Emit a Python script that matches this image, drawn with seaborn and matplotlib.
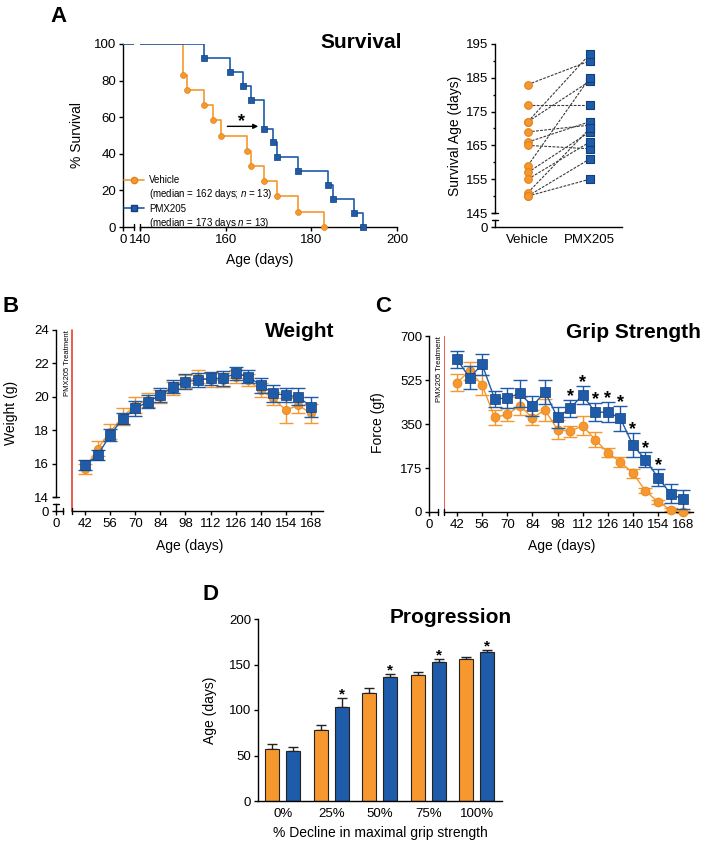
import numpy as np
import pandas as pd
import matplotlib
matplotlib.use('Agg')
import matplotlib.pyplot as plt
import matplotlib.transforms as mtransforms
from matplotlib.lines import Line2D
import seaborn as sns

W, H, DPI = 709, 843, 100

ORANGE = '#F6982E'
ORANGE_DARK = '#E0841E'
BLUE = '#1E5BA9'
BLUE_DARK = '#133E7C'
RED = '#E3412E'
GROUPS = ['Vehicle', 'PMX205']

# A: Kaplan-Meier steps (day of death, % still alive after it)
km_vehicle_day = [0, 150, 151, 155, 157, 159, 165, 166, 169, 172, 177, 183]
km_vehicle_pct = [100, 83.3, 75.0, 66.7, 58.3, 50.0, 41.7, 33.3, 25.0, 16.7, 8.3, 0]
km_pmx_day = [0, 155, 161, 164, 166, 169, 171, 172, 177, 184, 185, 190, 192]
km_pmx_pct = [100, 92.3, 84.6, 76.9, 69.2, 53.8, 46.2, 38.5, 30.8, 23.1, 15.4, 7.7, 0]

# A (right): paired survival ages
pair_vehicle = [183, 177, 172, 172, 169, 166, 165, 159, 157, 155, 151, 150, 150]
pair_pmx = [190, 177, 192, 184, 171, 172, 164, 185, 169, 166, 170, 161, 155]

# B / C: weekly measurements
age_days = [42, 49, 56, 63, 70, 77, 84, 91, 98, 105, 112, 119, 126, 133, 140, 147, 154, 161, 168]
weight_vehicle = [15.7, 16.9, 17.9, 18.8, 19.5, 19.8, 20.0, 20.5, 20.9, 21.2, 21.0, 21.0, 21.2, 21.0, 20.4, 19.9, 19.2, 19.5, 19.0]
weight_vehicle_sem = [0.3, 0.45, 0.45, 0.5, 0.5, 0.4, 0.4, 0.4, 0.4, 0.4, 0.4, 0.4, 0.4, 0.35, 0.4, 0.4, 0.75, 0.5, 0.55]
weight_pmx = [15.9, 16.5, 17.7, 18.7, 19.3, 19.7, 20.1, 20.6, 20.9, 21.0, 21.1, 21.1, 21.4, 21.2, 20.7, 20.2, 20.1, 20.0, 19.4]
weight_pmx_sem = [0.3, 0.3, 0.35, 0.3, 0.45, 0.4, 0.4, 0.4, 0.45, 0.4, 0.4, 0.45, 0.4, 0.4, 0.45, 0.5, 0.4, 0.5, 0.6]

grip_vehicle = [514, 562, 505, 376, 388, 422, 375, 405, 328, 321, 343, 288, 236, 199, 155, 84, 40, 9, 0]
grip_vehicle_sem = [34, 36, 40, 29, 26, 36, 30, 44, 37, 22, 38, 29, 19, 20, 18, 10, 8, 6, 4]
grip_pmx = [607, 534, 587, 449, 454, 472, 421, 478, 376, 412, 465, 397, 397, 373, 266, 208, 137, 73, 50]
grip_pmx_sem = [33, 46, 41, 32, 40, 53, 41, 47, 42, 33, 35, 37, 39, 49, 49, 30, 33, 37, 39]
grip_star_days = [105, 112, 119, 126, 133, 140, 147, 154]
treatment_day = 35

# D: progression
decline_cats = ['0%', '25%', '50%', '75%', '100%']
prog_vehicle = [57, 78, 119, 139, 156]
prog_vehicle_sem = [6, 6, 5, 3, 2]
prog_pmx = [55, 103, 136, 153, 164]
prog_pmx_sem = [4, 10, 4, 3, 2]
prog_star_cats = ['25%', '50%', '75%', '100%']

sns.set_theme(style='ticks')
plt.rcParams['font.family'] = ['Liberation Sans', 'DejaVu Sans']
plt.rcParams.update({
    'mathtext.fontset': 'custom', 'mathtext.rm': 'Liberation Sans',
    'mathtext.it': 'Liberation Sans:italic',
    'axes.linewidth': 1.0, 'axes.edgecolor': 'black',
    'xtick.color': 'black', 'ytick.color': 'black',
    'text.color': 'black', 'axes.labelcolor': 'black',
})

fig = plt.figure(figsize=(W / DPI, H / DPI), dpi=DPI)
# pixel coordinates, origin top-left
PX = mtransforms.Affine2D().scale(1 / W, -1 / H).translate(0, 1) + fig.transFigure


def pt(px):
    return px * 72 / DPI


def add_axes_px(x0, y0, x1, y1, **kw):
    return fig.add_axes([x0 / W, 1 - y1 / H, (x1 - x0) / W, (y1 - y0) / H], **kw)


def style(ax, left_out=0, bottom_out=0, left=True, bottom=True):
    ax.set_facecolor('none')
    ax.spines[['top', 'right']].set_visible(False)
    ax.spines['left'].set_visible(left)
    ax.spines['bottom'].set_visible(bottom)
    ax.spines['left'].set_position(('outward', pt(left_out)))
    ax.spines['bottom'].set_position(('outward', pt(bottom_out)))
    ax.tick_params(direction='out', length=pt(4), width=1, pad=2, labelsize=9.5,
                   left=left, labelleft=left, bottom=bottom, labelbottom=bottom)


def cap(x, y, vertical=True, half=3):
    # short bar marking an axis break
    if vertical:
        xs, ys = [x, x], [y - half, y + half]
    else:
        xs, ys = [x - half, x + half], [y, y]
    fig.add_artist(Line2D(xs, ys, transform=PX, color='black', lw=1))


def label(ax, which, text, x, y):
    if which == 'x':
        ax.set_xlabel(text, fontsize=10)
        axis = ax.xaxis
    else:
        ax.set_ylabel(text, fontsize=10)
        axis = ax.yaxis
    axis.set_label_coords(x, y, transform=PX)
    axis.label.set_va('center')


def heading(text, x, y):
    fig.text(x, y, text, transform=PX, ha='center', va='baseline', fontsize=15, fontweight='bold')


def letter(text, x, y):
    fig.text(x, y, text, transform=PX, ha='left', va='baseline', fontsize=16, fontweight='bold')


def star(ax, x, y, size=13):
    ax.annotate('*', xy=(x, y), xytext=(0, 2.5), textcoords='offset points',
                ha='center', va='center', fontsize=size, fontweight='bold')


# ---------------- A: survival curve ----------------
axA = add_axes_px(140, 44, 397, 227)
axA0 = add_axes_px(123, 44, 134, 227, sharey=axA)
for ax in (axA0, axA):
    sns.lineplot(x=km_vehicle_day, y=km_vehicle_pct, color=ORANGE, lw=1.2,
                 drawstyle='steps-post', errorbar=None, ax=ax)
    sns.lineplot(x=km_pmx_day, y=km_pmx_pct, color=BLUE, lw=1.2,
                 drawstyle='steps-post', errorbar=None, ax=ax)
sns.scatterplot(x=km_vehicle_day[1:], y=km_vehicle_pct[1:], marker='o', s=18, color=ORANGE,
                edgecolor=ORANGE_DARK, linewidth=0.5, clip_on=False, zorder=4, ax=axA)
sns.scatterplot(x=km_pmx_day[1:], y=km_pmx_pct[1:], marker='s', s=18, color=BLUE,
                edgecolor=BLUE_DARK, linewidth=0.5, clip_on=False, zorder=4, ax=axA)
axA.set(xlim=(140, 200), ylim=(0, 100), xticks=[140, 160, 180, 200], yticks=[0, 20, 40, 60, 80, 100])
style(axA, left_out=17)
axA0.set(xlim=(0, 2.5), xticks=[0])
style(axA0, left=False)
cap(134, 227)
cap(140, 227)
label(axA, 'x', 'Age (days)', 260, 260)
label(axA, 'y', '% Survival', 77, 135)

axA.annotate('', xy=(167.6, 55), xytext=(160.4, 55),
             arrowprops=dict(arrowstyle='-|>', color='black', lw=1, mutation_scale=7,
                             shrinkA=0, shrinkB=0))
axA.text(163.8, 57.5, '*', ha='center', va='center', fontsize=13, fontweight='bold')

h_veh = Line2D([], [], color=ORANGE, lw=1.2, marker='o', markersize=4.5,
               markerfacecolor=ORANGE, markeredgecolor=ORANGE_DARK)
h_pmx = Line2D([], [], color=BLUE, lw=1.2, marker='s', markersize=4.5,
               markerfacecolor=BLUE, markeredgecolor=BLUE_DARK)
blank = Line2D([], [], linestyle='none')
axA.legend([h_veh, blank, h_pmx, blank],
           ['Vehicle', '(median = 162 days; $n$ = 13)', 'PMX205', '(median = 173 days $n$ = 13)'],
           loc='upper left', bbox_to_anchor=(124, 175), bbox_transform=PX, frameon=False,
           fontsize=7, handlelength=2.1, handletextpad=0.45, labelspacing=0.25,
           borderpad=0, borderaxespad=0)
heading('Survival', 361, 48)
letter('A', 50, 22)

# ---------------- A: paired survival age ----------------
pairs = pd.DataFrame({
    'pair': list(range(len(pair_vehicle))) * 2,
    'group': ['Vehicle'] * len(pair_vehicle) + ['PMX205'] * len(pair_pmx),
    'age': pair_vehicle + pair_pmx,
})
axR = add_axes_px(495, 44, 622, 213)
axR0 = add_axes_px(495, 220, 622, 227, sharex=axR)
for g, mk, col, edge in [('Vehicle', 'o', ORANGE, ORANGE_DARK), ('PMX205', 's', BLUE, BLUE_DARK)]:
    sns.stripplot(data=pairs[pairs['group'] == g], x='group', y='age', order=GROUPS, jitter=False,
                  marker=mk, color=col, edgecolor=edge, linewidth=0.8, size=5.5, zorder=3, ax=axR)
sns.lineplot(data=pairs, x='group', y='age', units='pair', estimator=None, color='#3a3a3a',
             lw=0.8, linestyle=(0, (2.5, 1.2)), zorder=1, ax=axR)
axR.set(xlim=(-0.53, 1.52), ylim=(145, 195), yticks=[145, 155, 165, 175, 185, 195])
axR.set_yticks([150, 160, 170, 180, 190], minor=True)
style(axR, bottom=False)
axR.tick_params(which='minor', direction='out', length=pt(2.5), width=1)
axR.set_xlabel('')
axR0.set(ylim=(0, 1), yticks=[0])
style(axR0)
axR0.tick_params(axis='x', length=0, pad=5)
axR0.set_xlabel('')
cap(495, 220, vertical=False)
cap(495, 213, vertical=False)
label(axR, 'y', 'Survival Age (days)', 455, 136)

# ---------------- B: weight ----------------
axB = add_axes_px(72, 330, 323, 497)
axB0 = add_axes_px(56, 504, 63, 511)
axB.errorbar(age_days, weight_vehicle, yerr=weight_vehicle_sem, fmt='none', ecolor=ORANGE,
             elinewidth=1, capsize=5, capthick=1, zorder=2)
sns.lineplot(x=age_days, y=weight_vehicle, color=ORANGE, lw=1, marker='o', markersize=6,
             markeredgecolor=ORANGE_DARK, markeredgewidth=0.5, errorbar=None, zorder=3, ax=axB)
axB.errorbar(age_days, weight_pmx, yerr=weight_pmx_sem, fmt='none', ecolor=BLUE,
             elinewidth=1, capsize=5, capthick=1, zorder=4)
sns.lineplot(x=age_days, y=weight_pmx, color=BLUE, lw=1, marker='s', markersize=6.5,
             markeredgecolor=BLUE_DARK, markeredgewidth=0.5, errorbar=None, zorder=5, ax=axB)
axB.axvline(treatment_day, ymin=-14 / 167, ymax=1, clip_on=False, color=RED, lw=1.2)
axB.annotate('PMX205 Treatment', xy=(treatment_day, 1), xycoords=('data', 'axes fraction'),
             xytext=(-1.2, 0), textcoords='offset points', rotation=90, ha='right', va='top',
             fontsize=5.5, family=['Liberation Sans Narrow', 'Liberation Sans'])
axB.set(xlim=(34.75, 174.7), ylim=(14, 24), xticks=age_days[::2], yticks=[14, 16, 18, 20, 22, 24])
style(axB, left_out=16, bottom_out=14)
axB0.set(xlim=(0, 1), ylim=(0, 1), xticks=[0], yticks=[0])
style(axB0)
cap(56, 504, vertical=False)
cap(63, 511)
cap(56, 497, vertical=False)
cap(72, 511)
label(axB, 'x', 'Age (days)', 190, 546)
label(axB, 'y', 'Weight (g)', 11, 413)
heading('Weight', 300, 337)
letter('B', 3, 312)

# ---------------- C: grip strength ----------------
axC = add_axes_px(444, 336, 693, 512)
axC0 = add_axes_px(429, 336, 438, 512, sharey=axC)
axC.errorbar(age_days, grip_vehicle, yerr=grip_vehicle_sem, fmt='none', ecolor=ORANGE,
             elinewidth=1, capsize=5, capthick=1, zorder=2, clip_on=False)
sns.lineplot(x=age_days, y=grip_vehicle, color=ORANGE, lw=1, marker='o', markersize=6.5,
             markeredgecolor=ORANGE_DARK, markeredgewidth=0.5, errorbar=None, zorder=3,
             clip_on=False, ax=axC)
axC.errorbar(age_days, grip_pmx, yerr=grip_pmx_sem, fmt='none', ecolor=BLUE,
             elinewidth=1, capsize=5, capthick=1, zorder=4)
sns.lineplot(x=age_days, y=grip_pmx, color=BLUE, lw=1, marker='s', markersize=7,
             markeredgecolor=BLUE_DARK, markeredgewidth=0.5, errorbar=None, zorder=5, ax=axC)
for d in grip_star_days:
    i = age_days.index(d)
    star(axC, d, grip_pmx[i] + grip_pmx_sem[i])
axC.axvline(treatment_day, color=RED, lw=1.2)
axC.annotate('PMX205 Treatment', xy=(treatment_day, 1), xycoords=('data', 'axes fraction'),
             xytext=(-1.2, 0), textcoords='offset points', rotation=90, ha='right', va='top',
             fontsize=5.5, family=['Liberation Sans Narrow', 'Liberation Sans'])
axC.set(xlim=(34.75, 173.5), ylim=(0, 700), xticks=age_days[::2], yticks=[0, 175, 350, 525, 700])
style(axC, left_out=15)
axC0.set(xlim=(0, 1), xticks=[0])
style(axC0, left=False)
cap(438, 512)
cap(444, 512)
label(axC, 'x', 'Age (days)', 562, 546)
label(axC, 'y', 'Force (gf)', 378, 423)
heading('Grip Strength', 633, 338)
letter('C', 375, 312)

# ---------------- D: progression ----------------
prog = pd.DataFrame({
    'decline': decline_cats * 2,
    'group': ['Vehicle'] * len(decline_cats) + ['PMX205'] * len(decline_cats),
    'age': prog_vehicle + prog_pmx,
})
axD = add_axes_px(258, 619, 502, 801)
sns.barplot(data=prog, x='decline', y='age', hue='group', order=decline_cats, hue_order=GROUPS,
            palette=[ORANGE, BLUE], saturation=1, width=0.875, gap=0.33, edgecolor='#222222',
            linewidth=0.8, errorbar=None, legend=False, ax=axD)
for cont, sem in zip(axD.containers, [prog_vehicle_sem, prog_pmx_sem]):
    xs = [b.get_x() + b.get_width() / 2 for b in cont]
    hs = [b.get_height() for b in cont]
    axD.errorbar(xs, hs, yerr=[np.zeros(len(sem)), sem], fmt='none', ecolor='#222222',
                 elinewidth=1, capsize=3.5, capthick=1, zorder=0.9)
for cat in prog_star_cats:
    j = decline_cats.index(cat)
    b = axD.containers[1][j]
    star(axD, b.get_x() + b.get_width() / 2, prog_pmx[j] + prog_pmx_sem[j], size=11)
axD.set(xlim=(-0.51, 4.52), ylim=(0, 200), yticks=[0, 50, 100, 150, 200])
style(axD)
axD.tick_params(axis='x', length=0, pad=5)
label(axD, 'x', '% Decline in maximal grip strength', 380, 833)
label(axD, 'y', 'Age (days)', 210, 710)
heading('Progression', 451, 623)
letter('D', 203, 600)

fig.savefig('out.png', dpi=DPI)
